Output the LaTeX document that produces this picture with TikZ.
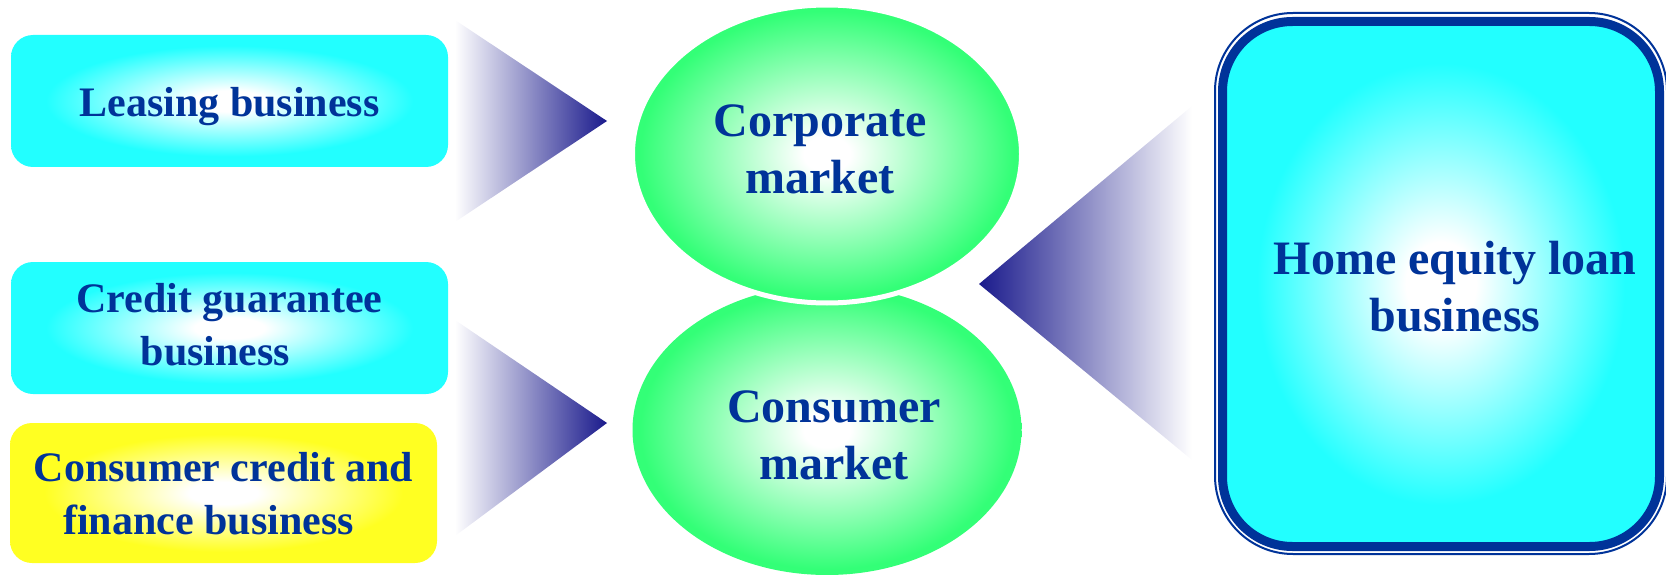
\documentclass[tikz,border=0pt]{standalone}
\usepackage{fontspec}
\setmainfont{Liberation Serif}
\usetikzlibrary{shapes.geometric}
\definecolor{txtblue}{RGB}{0,51,153}
\definecolor{cyanC}{RGB}{34,255,255}
\definecolor{greenC}{RGB}{51,255,119}
\definecolor{yellowC}{RGB}{255,255,34}
\definecolor{navyT}{RGB}{26,26,140}
\pgfdeclareradialshading{cyanglow}{\pgfpoint{0bp}{0bp}}{color(0bp)=(white); color(4bp)=(white); color(21bp)=(cyanC); color(50bp)=(cyanC)}
\pgfdeclareradialshading{yellowglow}{\pgfpoint{0bp}{0bp}}{color(0bp)=(white); color(4bp)=(white); color(21bp)=(yellowC); color(50bp)=(yellowC)}
\pgfdeclareradialshading{greenglow}{\pgfpoint{0bp}{0bp}}{color(0bp)=(white); color(3bp)=(white); color(24bp)=(greenC); color(50bp)=(greenC)}
\tikzset{
  smallbox/.style={rectangle, rounded corners=22pt, draw=none, shade, shading=cyanglow,
    minimum width=437pt, minimum height=132pt, inner sep=0pt},
  smalltext/.style={align=center, inner sep=0pt, text=txtblue, font=\bfseries\fontsize{42}{53}\selectfont},
  market/.style={ellipse, draw=none, shade, shading=greenglow, inner sep=0pt, minimum width=389pt},
  bigtext/.style={align=center, inner sep=0pt, text=txtblue, font=\bfseries\fontsize{48}{57}\selectfont},
  arrowtri/.style={draw=none},
}
\begin{document}
\begin{tikzpicture}[x=1pt,y=-1pt]
\useasboundingbox (0,0) rectangle (1666,575);
\clip (0,0) rectangle (1666,575);
% triangles
\shade[arrowtri, left color=white, right color=navyT] (455,20) -- (607,121) -- (455,222) -- cycle;
\shade[arrowtri, left color=white, right color=navyT] (455,320) -- (607,423) -- (455,536) -- cycle;
\shade[arrowtri, left color=navyT, right color=white] (979,284) -- (1192,106) -- (1192,460) -- cycle;
% left boxes
\node[smallbox] (leasing) at (229.5,101) {};
\node[smalltext] (leasingtext) at (229.5,107) {Leasing business};
\node[smallbox] (credit) at (229.5,328) {};
\node[smalltext] (credittext) at (229.5,325) {Credit guarantee\\business\hspace*{28pt}};
\node[smallbox, shading=yellowglow, minimum width=427pt, minimum height=140pt] (consumercredit) at (223.5,493) {};
\node[smalltext] (consumercredittext) at (223.5,494) {Consumer credit and\\finance business\hspace*{30pt}};
% ellipses
\node[market, minimum height=290pt] (consumer) at (827,430) {};
\node[bigtext] (consumertext) at (834,435) {Consumer\\market};
\node[market, minimum height=298pt, draw=white, line width=5pt] (corporate) at (827,154) {};
\node[bigtext] (corporatetext) at (820,149) {Corporate\\market};
% home equity box
\draw[txtblue, line width=2pt, rounded corners=78pt] (1215,13) rectangle (1667,554);
\path[shade, shading=cyanglow, rounded corners=70pt] (1222,21) rectangle (1660,547);
\draw[txtblue, line width=9pt, rounded corners=70pt] (1222.5,21.5) rectangle (1659.5,546.5);
\node[bigtext] (homeequity) at (1455,287) {Home equity loan\\business};
\end{tikzpicture}
\end{document}
